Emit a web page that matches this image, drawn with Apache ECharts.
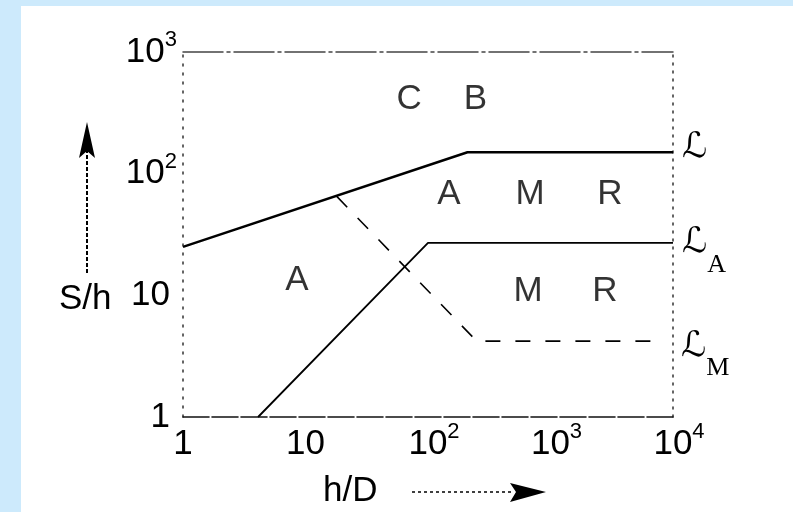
<!DOCTYPE html>
<html>
<head>
<meta charset="utf-8">
<script src="https://cdn.jsdelivr.net/npm/echarts@6/dist/echarts.min.js"></script>
<style>
  html, body { margin: 0; padding: 0; }
  #chart { width: 793px; height: 512px; }
</style>
</head>
<body>
<div id="chart"></div>
<script>
// boundary lines (h/D, S/h)
const lineL = [[1, 25], [210, 150], [10000, 150]];
const lineLA = [[4.1, 1], [100, 27], [10000, 27]];
const lineLM = [[18, 65], [250, 4.2], [7000, 4.2]];

// region letters
const regionText = ['C', 'B', 'A', 'M', 'R', 'M', 'R', 'A'];
const regionX = [70, 244, 148, 680, 3060, 655, 2786, 8.5];
const regionY = [406, 406, 68, 68, 68, 10.8, 10.8, 13.2];

// tick labels by exponent
const expLabels = ['1', '10', '10²', '10³', '10⁴'];
const supText = ['', '', '2', '3', '4'];

const FONT = '"Liberation Sans", Arial, sans-serif';
const INK = '#000';

const myChart = echarts.init(document.getElementById('chart'));

function expOf(v) {
  return Math.round(Math.log10(v));
}

const tickRich = {
  b: { fontSize: 35, lineHeight: 46, fontFamily: FONT, color: INK },
  s: { fontSize: 22, lineHeight: 20, verticalAlign: 'top', fontFamily: FONT, color: INK },
  pl: { width: 12, lineHeight: 46 },
  pr: { width: 7, lineHeight: 46 }
};

const endRich = {
  l: { fontSize: 35, lineHeight: 34, verticalAlign: 'top', fontFamily: '"DejaVu Sans"', color: INK },
  s: { fontSize: 26, lineHeight: 20, verticalAlign: 'top', padding: [26, 0, 0, 0], fontFamily: '"Liberation Serif"', color: INK }
};

const regionData = regionText.map((t, i) => [regionX[i], regionY[i], t]);

const option = {
  backgroundColor: '#cdeafc',
  animation: false,
  grid: { left: 183, right: 120, top: 52, bottom: 95 },
  xAxis: [
    {
      type: 'log', logBase: 10, min: 1, max: 10000, position: 'bottom',
      axisLine: { onZero: false, lineStyle: { color: '#111', width: 1.6, type: [26, 3] } },
      axisTick: { show: false },
      splitLine: { show: false },
      axisLabel: {
        margin: 4,
        formatter: function (v) {
          const e = expOf(v);
          if (e < 2) return '{b|' + expLabels[e] + '}';
          return '{pl|}{b|10}{s|' + supText[e] + '}';
        },
        rich: tickRich
      }
    },
    {
      type: 'log', logBase: 10, min: 1, max: 10000, position: 'top',
      axisLine: { onZero: false, lineStyle: { color: '#444', width: 1.5, type: [40, 4, 3, 4] } },
      axisTick: { show: false }, axisLabel: { show: false }, splitLine: { show: false }
    }
  ],
  yAxis: [
    {
      type: 'log', logBase: 10, min: 1, max: 1000, position: 'left',
      axisLine: { show: true, onZero: false, lineStyle: { color: '#333', width: 1.5, type: [2, 7] } },
      axisTick: { show: false },
      splitLine: { show: false },
      axisLabel: {
        margin: 6,
        formatter: function (v) {
          const e = expOf(v);
          if (e < 2) return '{b|' + expLabels[e] + '}{pr|}';
          return '{b|10}{s|' + supText[e] + '}';
        },
        rich: tickRich
      }
    },
    {
      type: 'log', logBase: 10, min: 1, max: 1000, position: 'right',
      axisLine: { show: true, onZero: false, lineStyle: { color: '#333', width: 1.5, type: [2, 6] } },
      axisTick: { show: false }, axisLabel: { show: false }, splitLine: { show: false }
    }
  ],
  graphic: [
    { type: 'rect', z: -100, shape: { x: 21, y: 6, width: 793, height: 520 }, style: { fill: '#fff' } },
    { type: 'text', left: 59, top: 282, style: { text: 'S/h', font: '35px ' + FONT, fill: INK } },
    { type: 'text', left: 323, top: 474, style: { text: 'h/D', font: '35px ' + FONT, fill: INK } },
    { type: 'line', shape: { x1: 87, y1: 273, x2: 87, y2: 150 }, style: { stroke: INK, lineWidth: 2, lineDash: [4, 2] } },
    { type: 'polygon', shape: { points: [[87, 122], [95, 158], [87, 151], [79, 158]] }, style: { fill: INK } },
    { type: 'line', shape: { x1: 412, y1: 492, x2: 514, y2: 492 }, style: { stroke: INK, lineWidth: 1.5, lineDash: [3, 3] } },
    { type: 'polygon', shape: { points: [[546, 492], [510, 483], [516, 492], [510, 502]] }, style: { fill: INK } }
  ],
  series: [
    {
      name: 'L', type: 'line', data: lineL, symbol: 'none',
      lineStyle: { color: INK, width: 2.5 },
      endLabel: { show: true, distance: 9, offset: [0, -5], formatter: '{l|ℒ}', rich: endRich }
    },
    {
      name: 'LA', type: 'line', data: lineLA, symbol: 'none',
      lineStyle: { color: INK, width: 1.8 },
      endLabel: { show: true, distance: 9, offset: [0, 0], formatter: '{l|ℒ}{s|A}', rich: endRich }
    },
    {
      name: 'LM', type: 'line', data: lineLM, symbol: 'none',
      lineStyle: { color: INK, width: 1.6, type: [15, 15] },
      endLabel: { show: true, distance: 27, offset: [0, 5], formatter: '{l|ℒ}{s|M}', rich: endRich }
    },
    {
      name: 'regions', type: 'scatter', data: regionData, symbolSize: 0, silent: true,
      label: {
        show: true, position: 'inside',
        formatter: function (p) { return p.data[2]; },
        fontSize: 35, fontFamily: FONT, color: INK
      }
    }
  ]
};

myChart.setOption(option, true);
window.addEventListener('resize', function () {
  myChart.resize();
});
</script>
</body>
</html>
